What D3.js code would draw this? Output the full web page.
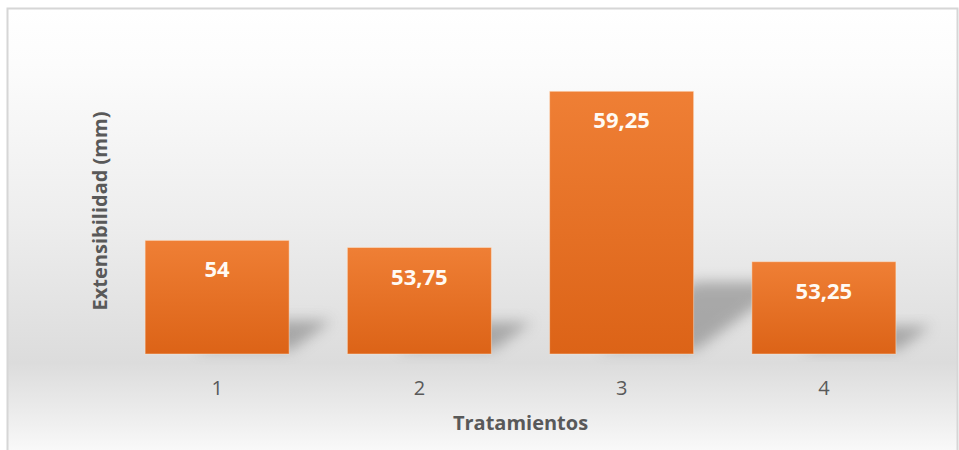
<!DOCTYPE html>
<html>
<head>
<meta charset="utf-8">
<script src="https://cdn.jsdelivr.net/npm/d3@7"></script>
<style>
  html, body { margin: 0; padding: 0; background: #ffffff; }
  svg { display: block; }
</style>
</head>
<body>
<svg id="chart" width="959" height="450"></svg>
<script>
// Extensibilidad media por tratamiento
const categories = ["1", "2", "3", "4"];
const values = [54, 53.75, 59.25, 53.25];
const valueLabels = ["54", "53,75", "59,25", "53,25"];
const xTitle = "Tratamientos";
const yTitle = "Extensibilidad (mm)";

const W = 959, H = 450;
const plot = { left: 116, right: 925, top: 70, bottom: 354 };

const svg = d3.select("#chart");
const defs = svg.append("defs");

// chart area background: white top, grey toward the baseline, white again at the bottom
const bg = defs.append("linearGradient").attr("id", "bgGrad")
  .attr("x1", 0).attr("y1", 0).attr("x2", 0).attr("y2", 1);
[[0, "#ffffff"], [0.12, "#fcfcfc"], [0.45, "#eeeeee"], [0.77, "#dcdcdc"], [0.88, "#ececec"], [1, "#ffffff"]]
  .forEach(([o, c]) => bg.append("stop").attr("offset", o).attr("stop-color", c));

// bar fill
const barGrad = defs.append("linearGradient").attr("id", "barGrad")
  .attr("x1", 0).attr("y1", 0).attr("x2", 0).attr("y2", 1);
barGrad.append("stop").attr("offset", 0).attr("stop-color", "#ef7f35");
barGrad.append("stop").attr("offset", 1).attr("stop-color", "#dc6317");

// soft cast shadow
const blur = defs.append("filter").attr("id", "shadowBlur")
  .attr("x", "-50%").attr("y", "-50%").attr("width", "200%").attr("height", "200%");
blur.append("feGaussianBlur").attr("stdDeviation", 7);

svg.append("rect")
  .attr("x", 7.5).attr("y", 8.5).attr("width", 950).attr("height", 460)
  .attr("fill", "url(#bgGrad)")
  .attr("stroke", "#d6d6d6").attr("stroke-width", 2);

const x = d3.scaleBand().domain(categories).range([plot.left, plot.right]).paddingInner(0.288).paddingOuter(0.144);
const y = d3.scaleLinear().domain([50, 60]).range([plot.bottom, plot.top]);

const data = categories.map((c, i) => ({ cat: c, value: values[i], label: valueLabels[i] }));

// shadows cast up and to the right of each bar
svg.append("g").selectAll("path").data(data).join("path")
  .attr("d", d => {
    const x0 = x(d.cat), w = x.bandwidth();
    const base = y(50), h = base - y(d.value);
    const sh = h * 0.26, dx = h * 0.36;
    const bl = x0 + w * 0.35, br = x0 + w + 2;
    return `M${bl},${base - 4} L${br},${base - 4} L${br + dx},${base - 4 - sh} L${bl + dx},${base - 4 - sh} Z`;
  })
  .attr("fill", "#6e6e6e")
  .attr("opacity", 0.5)
  .attr("filter", "url(#shadowBlur)");

// bars
svg.append("g").selectAll("rect").data(data).join("rect")
  .attr("x", d => x(d.cat))
  .attr("y", d => y(d.value))
  .attr("width", x.bandwidth())
  .attr("height", d => y(50) - y(d.value))
  .attr("fill", "url(#barGrad)")
  .attr("stroke", "rgba(255,235,215,0.45)")
  .attr("stroke-width", 1);

// value labels inside the top of each bar
svg.append("g").selectAll("text").data(data).join("text")
  .attr("x", d => x(d.cat) + x.bandwidth() / 2)
  .attr("y", d => y(d.value) + 37)
  .attr("text-anchor", "middle")
  .attr("font-family", "'Open Sans', sans-serif")
  .attr("font-weight", 700)
  .attr("font-size", 22)
  .attr("fill", "#fffaf3")
  .text(d => d.label);

// category axis labels
const xAxis = d3.axisBottom(x).tickSize(0).tickPadding(0);
const gx = svg.append("g").attr("transform", `translate(0,${plot.bottom})`).call(xAxis);
gx.select(".domain").remove();
gx.selectAll("text")
  .attr("y", 41)
  .attr("dy", 0)
  .attr("font-family", "'Open Sans', sans-serif")
  .attr("font-size", 20)
  .attr("fill", "#595959");

// axis titles
svg.append("text")
  .attr("x", (plot.left + plot.right) / 2)
  .attr("y", 430)
  .attr("text-anchor", "middle")
  .attr("font-family", "'Open Sans', sans-serif")
  .attr("font-weight", 700)
  .attr("font-size", 20)
  .attr("fill", "#595959")
  .text(xTitle);

svg.append("text")
  .attr("transform", `translate(107,211) rotate(-90)`)
  .attr("text-anchor", "middle")
  .attr("font-family", "'Open Sans', sans-serif")
  .attr("font-weight", 700)
  .attr("font-size", 20)
  .attr("fill", "#595959")
  .text(yTitle);
</script>
</body>
</html>
